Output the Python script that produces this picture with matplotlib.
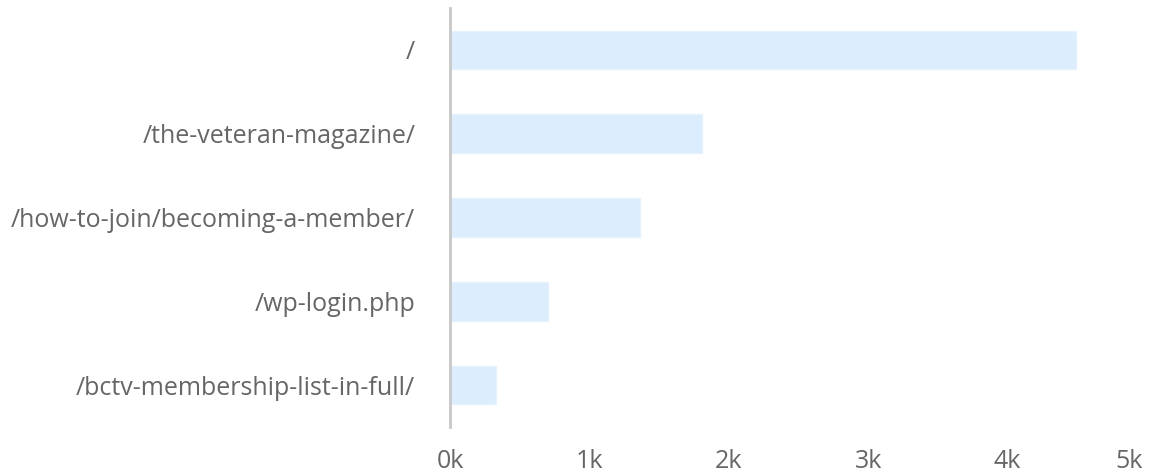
import matplotlib
matplotlib.use("Agg")
import matplotlib.pyplot as plt
import matplotlib.transforms as mtransforms

categories = ["/", "/the-veteran-magazine/", "/how-to-join/becoming-a-member/",
              "/wp-login.php", "/bctv-membership-list-in-full/"]
values = [4490, 1810, 1360, 700, 330]
xticks = [0, 1000, 2000, 3000, 4000, 5000]
xtick_labels = ["0k", "1k", "2k", "3k", "4k", "5k"]

plt.rcParams['font.family'] = ['Open Sans', 'DejaVu Sans']

W, H = 1151, 475
fig = plt.figure(figsize=(W / 100, H / 100), dpi=100)
ax = fig.add_axes([450 / W, 1 - 427 / H, (1147 - 450) / W, (427 - 8) / H])

ypos = list(range(len(categories)))
ax.barh(ypos, values, height=0.46, color="#dcedfd", edgecolor="#e6f2fe", linewidth=1, zorder=2)
ax.set_ylim(len(categories) - 0.5, -0.5)
ax.set_xlim(0, 5000)
ax.set_yticks(ypos)
ax.set_yticklabels(categories)
ax.set_xticks(xticks)
ax.set_xticklabels(xtick_labels)
ax.tick_params(axis='both', length=0, labelsize=18, colors="#666666")
ax.tick_params(axis='y', pad=25)
ax.tick_params(axis='x', pad=16)
for s in ["top", "right", "bottom"]:
    ax.spines[s].set_visible(False)
ax.spines["left"].set_color("#c8c8c8")
ax.spines["left"].set_linewidth(2)
ax.grid(False)

last = ax.get_xticklabels()[-1]
last.set_ha("right")
last.set_transform(last.get_transform() + mtransforms.ScaledTranslation(-4 / 100, 0, fig.dpi_scale_trans))

fig.savefig("out.png", dpi=100)
